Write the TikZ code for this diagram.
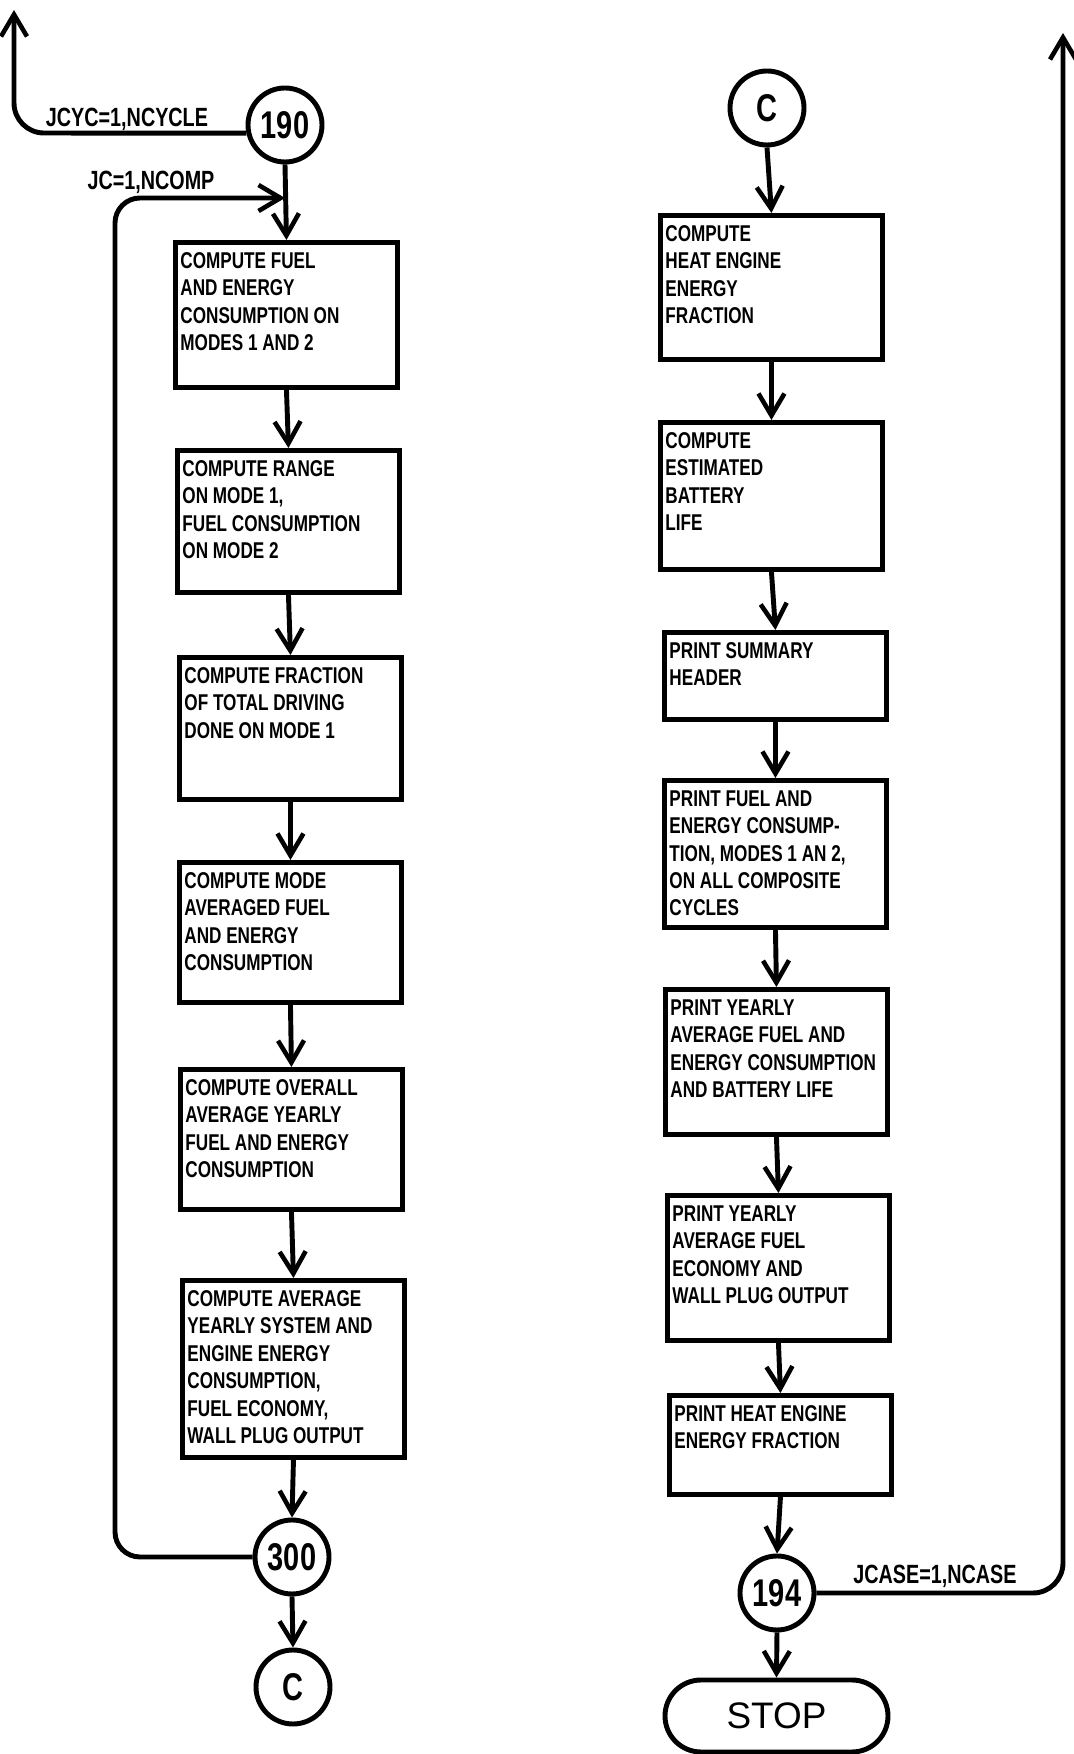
\documentclass[tikz,border=0pt]{standalone}
\usepackage{fontspec}
\usepackage{tikz}
\usetikzlibrary{arrows.meta}
\newfontfamily\handfont{Liberation Sans}[FakeStretch=0.75]
\newfontfamily\plainfont{Liberation Sans}
\newcommand{\proctext}[2]{\parbox[t][#1][t]{2.12cm}{\raggedright #2}}
\tikzset{
    proc/.style={draw, line width=1.4pt, anchor=north west, inner xsep=0.05cm, inner ysep=0.1cm,
        font=\handfont\bfseries\fontsize{6.5}{7.8}\selectfont},
    conn/.style={draw, line width=1.4pt, circle, minimum size=0.74cm, inner sep=0pt,
        font=\handfont\bfseries\fontsize{11}{12}\selectfont},
    lbl/.style={inner sep=0pt, font=\handfont\bfseries\fontsize{7.5}{8}\selectfont},
    flow/.style={line width=1.4pt, -{Straight Barb[length=0.22cm,width=0.26cm,line width=1.3pt]}},
}

\begin{document}
\begin{tikzpicture}
\useasboundingbox[fill=white] (0,0) rectangle (10.73,17.54);
\node[conn] (c190) at (2.85,16.29) {190};
\node[proc] (L1) at (1.73,15.14) {\proctext{1.25cm}{COMPUTE FUEL\\AND ENERGY\\CONSUMPTION ON\\MODES 1 AND 2}};
\node[proc] (L2) at (1.75,13.06) {\proctext{1.22cm}{COMPUTE RANGE\\ON MODE 1,\\FUEL CONSUMPTION\\ON MODE 2}};
\node[proc] (L3) at (1.77,10.99) {\proctext{1.22cm}{COMPUTE FRACTION\\OF TOTAL DRIVING\\DONE ON MODE 1}};
\node[proc] (L4) at (1.77,8.94) {\proctext{1.20cm}{COMPUTE MODE\\AVERAGED FUEL\\AND ENERGY\\CONSUMPTION}};
\node[proc] (L5) at (1.78,6.87) {\proctext{1.20cm}{COMPUTE OVERALL\\AVERAGE YEARLY\\FUEL AND ENERGY\\CONSUMPTION}};
\node[proc] (L6) at (1.80,4.76) {\proctext{1.57cm}{COMPUTE AVERAGE\\YEARLY SYSTEM AND\\ENGINE ENERGY\\CONSUMPTION,\\FUEL ECONOMY,\\WALL PLUG OUTPUT}};
\node[conn] (c300) at (2.92,1.97) {300};
\node[conn] (cA) at (2.93,0.67) {C};
\node[conn] (cB) at (7.67,16.46) {C};
\node[proc] (R1) at (6.58,15.41) {\proctext{1.24cm}{COMPUTE\\HEAT ENGINE\\ENERGY\\FRACTION}};
\node[proc] (R2) at (6.58,13.34) {\proctext{1.27cm}{COMPUTE\\ESTIMATED\\BATTERY\\LIFE}};
\node[proc] (R3) at (6.62,11.24) {\proctext{0.67cm}{PRINT SUMMARY\\HEADER}};
\node[proc] (R4) at (6.62,9.76) {\proctext{1.27cm}{PRINT FUEL AND\\ENERGY CONSUMP-\\TION, MODES 1 AN 2,\\ON ALL COMPOSITE\\CYCLES}};
\node[proc] (R5) at (6.63,7.67) {\proctext{1.25cm}{PRINT YEARLY\\AVERAGE FUEL AND\\ENERGY CONSUMPTION\\AND BATTERY LIFE}};
\node[proc] (R6) at (6.65,5.61) {\proctext{1.25cm}{PRINT YEARLY\\AVERAGE FUEL\\ECONOMY AND\\WALL PLUG OUTPUT}};
\node[proc] (R7) at (6.67,3.61) {\proctext{0.79cm}{PRINT HEAT ENGINE\\ENERGY FRACTION}};
\node[conn] (c194) at (7.77,1.61) {194};
\node[draw, line width=1.4pt, rounded corners=0.36cm, minimum width=2.23cm, minimum height=0.72cm,
    font=\plainfont\fontsize{10.5}{12}\selectfont] (stop) at (7.765,0.38) {STOP};
\foreach \a/\b in {c190/L1,L1/L2,L2/L3,L3/L4,L4/L5,L5/L6,L6/c300,c300/cA,
    cB/R1,R1/R2,R2/R3,R3/R4,R4/R5,R5/R6,R6/R7,R7/c194,c194/stop} {
    \draw[flow] (\a.south) -- (\b.north);
}
\coordinate (jcin) at (2.85,15.56);
\coordinate (jcycout) at (0.14,17.44);
\coordinate (jcaseout) at (10.63,17.21);
\draw[flow, rounded corners=0.25cm] (c300.west) -- (1.15,1.97) -- (1.15,15.56) -- (jcin);
\draw[flow, rounded corners=0.3cm] (c190.192) -- (0.14,16.21) -- (jcycout);
\draw[flow, rounded corners=0.3cm] (c194.east) -- (10.63,1.61) -- (jcaseout);
\node[lbl] (jcyclbl) at (1.27,16.35) {JCYC=1,NCYCLE};
\node[lbl] (jclbl) at (1.51,15.72) {JC=1,NCOMP};
\node[lbl] (jcaselbl) at (9.35,1.78) {JCASE=1,NCASE};
\end{tikzpicture}
\end{document}
